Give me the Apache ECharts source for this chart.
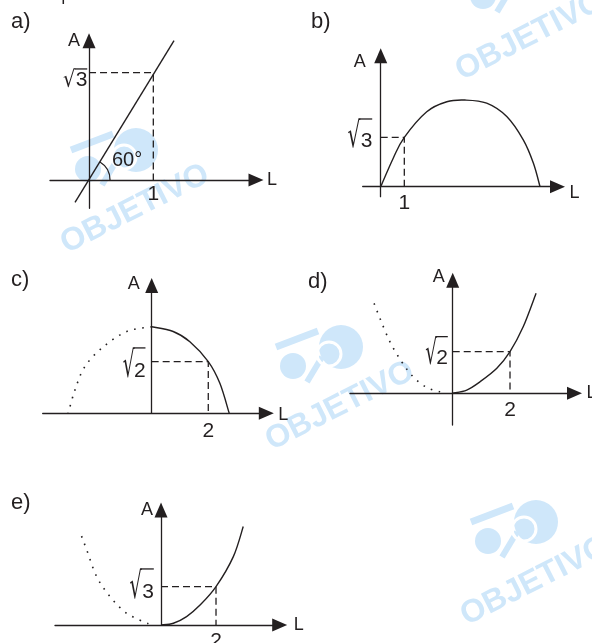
<!DOCTYPE html>
<html>
<head>
<meta charset="utf-8">
<script src="https://cdn.jsdelivr.net/npm/echarts@6/dist/echarts.min.js"></script>
<style>
  html, body { margin: 0; padding: 0; background: #fff; }
  #chart { width: 592px; height: 643px; }
</style>
</head>
<body>
<div id="chart"></div>
<script>
// ---- values ----
const SQRT3 = 1.732;
const SQRT2 = 1.414;

// a) straight line through the origin at 60 degrees
const aLine = [[-0.218, -0.36], [1.322, 2.249]];
const aGuide = [[0, SQRT3], [1, SQRT3], [1, 0]];
const aXTicks = [1], aXTickLabels = ['1'];
const aYTicks = [SQRT3], aYTickLabels = ['3'];

// b) arch starting at the origin
const bCurve = [[0, 0], [0.53, 1.0], [1, SQRT3], [1.95, 2.63], [2.80, 2.98], [3.57, 3.04],
                [4.49, 2.93], [5.34, 2.46], [6.04, 1.64], [6.47, 0.82], [6.75, 0]];
const bGuide = [[0, SQRT3], [1, SQRT3], [1, 0]];
const bXTicks = [1], bXTickLabels = ['1'];
const bYTicks = [SQRT3], bYTickLabels = ['3'];

// c) decreasing branch, mirrored branch dotted
const cSolid = [[0, 2.37], [0.76, 2.24], [1.35, 1.96], [2, SQRT2], [2.41, 0.82], [2.74, 0]];
const cDotted = [[0, 2.37], [-0.88, 2.24], [-1.71, 1.82], [-2.36, 1.28], [-2.71, 0.64], [-2.95, 0]];
const cGuide = [[0, SQRT2], [2, SQRT2], [2, 0]];
const cXTicks = [2], cXTickLabels = ['2'];
const cYTicks = [SQRT2], cYTickLabels = ['2'];

// d) increasing branch through (2, √2)
const dSolid = [[0, 0], [0.49, 0.11], [0.95, 0.39], [1.54, 0.85], [2, SQRT2], [2.46, 2.26], [2.91, 3.40]];
const dDotted = [[-0.44, 0.05], [-0.91, 0.20], [-1.38, 0.56], [-1.78, 1.07], [-2.19, 1.75], [-2.54, 2.55], [-2.79, 3.17]];
const dGuide = [[0, SQRT2], [2, SQRT2], [2, 0]];
const dXTicks = [2], dXTickLabels = ['2'];
const dYTicks = [SQRT2], dYTickLabels = ['2'];

// e) increasing branch through (2, √3)
const eSolid = [[0, 0], [0.45, 0.08], [0.93, 0.38], [1.42, 0.90], [2, SQRT3], [2.63, 3.09], [2.99, 4.45]];
const eDotted = [[-0.46, 0.05], [-1.25, 0.53], [-1.85, 1.28], [-2.34, 2.19], [-2.70, 3.39], [-2.95, 4.22]];
const eGuide = [[0, SQRT3], [2, SQRT3], [2, 0]];
const eXTicks = [2], eXTickLabels = ['2'];
const eYTicks = [SQRT3], eYTickLabels = ['3'];

// ---- styling ----
const INK = '#231f20';
const FAMILY = '"Liberation Sans"';
const FONT = FAMILY + ', Arial, sans-serif';
const ROOT_FAMILY = '"DejaVu Sans"';
const WATERMARK = '#cfe7fa';

// layout per panel: grid box (px), axis ranges, label placement
// root: radicand right edge / vertical centre offsets, vinculum height offset, radical sign width (px)
const panels = [
  { tag: 'a)', tagX: 11, tagY: 22,
    grid: { left: 50, top: 40.8, width: 206, height: 167.5 }, x: [-0.607, 2.597], y: [-0.457, 2.247],
    solid: aLine, dotted: null, guide: aGuide, curved: false,
    xt: aXTicks, xtl: aXTickLabels, yt: aYTicks, ytl: aYTickLabels,
    aGap: 0, aPad: 9, lGap: 11, lShift: 0, xMargin: -24.5,
    root: { right: -2.3, center: 6.6, bar: -4.4, width: 12 } },
  { tag: 'b)', tagX: 311, tagY: 22,
    grid: { left: 362.7, top: 55.8, width: 194.8, height: 140.9 }, x: [-0.763, 7.49], y: [-0.351, 4.593],
    solid: bCurve, dotted: null, guide: bGuide, curved: true,
    xt: bXTicks, xtl: bXTickLabels, yt: bYTicks, ytl: bYTickLabels,
    aGap: -6, aPad: 15, lGap: 12, lShift: 12, xMargin: -4,
    root: { right: -9, center: 2.7, bar: -19, width: 12.5 } },
  { tag: 'c)', tagX: 11, tagY: 280,
    grid: { left: 42.7, top: 285.5, width: 223.6, height: 127.8 }, x: [-3.85, 4.05], y: [0, 3.5],
    solid: cSolid, dotted: cDotted, guide: cGuide, curved: true,
    xt: cXTicks, xtl: cXTickLabels, yt: cYTicks, ytl: cYTickLabels,
    aGap: 1, aPad: 12, lGap: 12, lShift: 4, xMargin: 7,
    root: { right: -6.7, center: 8, bar: -14.4, width: 11.5 } },
  { tag: 'd)', tagX: 308, tagY: 282,
    grid: { left: 350, top: 280.3, width: 224.5, height: 144.7 }, x: [-3.585, 4.251], y: [-1.078, 3.841],
    solid: dSolid, dotted: dDotted, guide: dGuide, curved: true,
    xt: dXTicks, xtl: dXTickLabels, yt: dYTicks, ytl: dYTickLabels,
    aGap: 3, aPad: 8, lGap: 12, lShift: 0, xMargin: -25.5,
    root: { right: -5.4, center: 5, bar: -15.7, width: 11.5 } },
  { tag: 'e)', tagX: 11, tagY: 503,
    grid: { left: 55, top: 510, width: 224.7, height: 115 }, x: [-3.855, 4.316], y: [0, 5.2],
    solid: eSolid, dotted: eDotted, guide: eGuide, curved: true,
    xt: eXTicks, xtl: eXTickLabels, yt: eYTicks, ytl: eYTickLabels,
    aGap: 0, aPad: 8, lGap: 14, lShift: 0, xMargin: 6,
    root: { right: -7.7, center: 4.1, bar: -18.4, width: 12 } }
];

function pick(values, labels, v) {
  let best = 0;
  values.forEach((t, i) => { if (Math.abs(t - v) < Math.abs(values[best] - v)) best = i; });
  return labels[best];
}

// Catmull-Rom spline through pixel points, as an SVG path string
function splinePath(pts) {
  let d = 'M' + pts[0][0] + ' ' + pts[0][1];
  for (let i = 0; i < pts.length - 1; i++) {
    const p0 = pts[i - 1] || pts[i], p1 = pts[i], p2 = pts[i + 1], p3 = pts[i + 2] || pts[i + 1];
    const c1x = p1[0] + (p2[0] - p0[0]) / 6, c1y = p1[1] + (p2[1] - p0[1]) / 6;
    const c2x = p2[0] - (p3[0] - p1[0]) / 6, c2y = p2[1] - (p3[1] - p1[1]) / 6;
    d += ' C' + c1x + ' ' + c1y + ' ' + c2x + ' ' + c2y + ' ' + p2[0] + ' ' + p2[1];
  }
  return d;
}

function curveSeries(i, pts, lineDash, width) {
  return {
    type: 'custom', coordinateSystem: 'cartesian2d', xAxisIndex: i, yAxisIndex: i,
    data: pts, encode: { x: 0, y: 1 }, z: 3, silent: true,
    renderItem: (params, api) => {
      if (params.dataIndex !== 0) return null;
      const px = pts.map(pt => api.coord(pt));
      return {
        type: 'path', shape: { pathData: splinePath(px) },
        style: { stroke: INK, lineWidth: width, fill: null, lineDash: lineDash }
      };
    }
  };
}

const axisLineStyle = {
  onZero: true,
  symbol: ['none', 'triangle'],
  symbolSize: [13, 15],
  lineStyle: { color: INK, width: 1.3 }
};

const grids = [], xAxes = [], yAxes = [], series = [];

panels.forEach((p, i) => {
  // fixed pixel boxes: labels near the page edge must not squeeze the plot
  grids.push(Object.assign({ containLabel: false, outerBoundsMode: 'none' }, p.grid));
  xAxes.push({
    type: 'value', gridIndex: i, min: p.x[0], max: p.x[1],
    axisLine: axisLineStyle, axisTick: { show: false }, splitLine: { show: false },
    axisLabel: {
      customValues: p.xt, formatter: v => pick(p.xt, p.xtl, v),
      margin: p.xMargin, color: INK, fontSize: 21, fontFamily: FONT
    },
    name: '{n|L}', nameLocation: 'end', nameGap: p.lGap,
    nameTextStyle: { color: INK, fontSize: 18, fontFamily: FONT, align: 'left', verticalAlign: 'middle',
                     rich: { n: { fontSize: 18, fontFamily: FONT, color: INK, padding: [p.lShift, 0, 0, 0] } } }
  });
  yAxes.push({
    type: 'value', gridIndex: i, min: p.y[0], max: p.y[1],
    axisLine: axisLineStyle, axisTick: { show: false }, splitLine: { show: false },
    axisLabel: { show: false },
    name: '{n|A}', nameLocation: 'end', nameGap: p.aGap,
    nameTextStyle: { color: INK, fontSize: 18, fontFamily: FONT, align: 'right', verticalAlign: 'middle',
                     rich: { n: { fontSize: 18, fontFamily: FONT, color: INK, padding: [0, p.aPad, 0, 0] } } }
  });

  if (p.curved) {
    series.push(curveSeries(i, p.solid, null, 1.4));
    if (p.dotted) series.push(curveSeries(i, p.dotted, [1.6, 6.5], 1.6));
  } else {
    series.push({
      type: 'line', xAxisIndex: i, yAxisIndex: i, data: p.solid,
      symbol: 'none', clip: false, z: 3, silent: true,
      lineStyle: { color: INK, width: 1.4 }
    });
  }
  series.push({
    type: 'line', xAxisIndex: i, yAxisIndex: i, data: p.guide,
    symbol: 'none', clip: false, z: 2, silent: true,
    lineStyle: { color: INK, width: 1.3, type: [7, 4] }
  });
});

// watermark: text centre of each stamp
const stamps = [[135, 209], [530, 36], [340, 406], [535, 581]];

function stampElements(cx, cy) {
  return [
    { type: 'circle', z: -10, shape: { cx: cx + 1, cy: cy - 59, r: 22 }, style: { fill: WATERMARK } },
    { type: 'circle', z: -9, shape: { cx: cx - 11, cy: cy - 52, r: 12 }, style: { fill: 'none', stroke: '#fff', lineWidth: 3 } },
    { type: 'circle', z: -10, shape: { cx: cx - 47, cy: cy - 40, r: 13 }, style: { fill: WATERMARK } },
    { type: 'line', z: -10, shape: { x1: cx - 64, y1: cy - 59, x2: cx - 22, y2: cy - 75 }, style: { stroke: WATERMARK, lineWidth: 7 } },
    { type: 'line', z: -10, shape: { x1: cx - 33, y1: cy - 24, x2: cx - 18, y2: cy - 49 }, style: { stroke: WATERMARK, lineWidth: 6 } },
    { type: 'text', z: -10, x: cx, y: cy, rotation: 0.47,
      style: { text: 'OBJETIVO', fill: WATERMARK, font: 'bold 32px ' + FONT, align: 'center', verticalAlign: 'middle' } }
  ];
}

const chart = echarts.init(document.getElementById('chart'), null, { renderer: 'canvas' });
chart.setOption({
  animation: false,
  backgroundColor: '#fff',
  grid: grids, xAxis: xAxes, yAxis: yAxes, series: series
});

// ink extents of a string, measured about a left / middle anchor
const measureCtx = document.createElement('canvas').getContext('2d');
function inkBox(font, str) {
  measureCtx.font = font;
  measureCtx.textAlign = 'left';
  measureCtx.textBaseline = 'middle';
  const m = measureCtx.measureText(str);
  return { l: m.actualBoundingBoxLeft, r: m.actualBoundingBoxRight,
           a: m.actualBoundingBoxAscent, d: m.actualBoundingBoxDescent };
}

// square-root tick label: radicand, radical sign and vinculum, anchored on the tick of the A axis
function rootLabel(at, digit, spec) {
  const digitFont = '21px ' + FAMILY;
  const md = inkBox(digitFont, digit);
  const xd = at[0] + spec.right - md.r;
  const yd = at[1] + spec.center - (md.d - md.a) / 2;
  const digitLeft = xd - md.l;
  const digitBottom = yd + md.d;

  const barY = at[1] + spec.bar;
  const h = digitBottom + 1.5 - barY;
  const mr = inkBox('100px ' + ROOT_FAMILY, '√');
  const k = h / (mr.a + mr.d);
  const size = 100 * k;
  const sx = spec.width / ((mr.l + mr.r) * k);
  const xr = digitLeft - 0.3 - mr.r * k * sx;
  const yr = barY + mr.a * k;
  const barStart = xr + mr.r * k * sx - 0.8;

  return [
    { type: 'text', z: 5, x: xd, y: yd,
      style: { text: digit, fill: INK, font: digitFont, align: 'left', verticalAlign: 'middle' } },
    { type: 'text', z: 5, x: xr, y: yr, scaleX: sx,
      style: { text: '√', fill: INK, font: size.toFixed(2) + 'px ' + ROOT_FAMILY, align: 'left', verticalAlign: 'middle' } },
    { type: 'line', z: 5,
      shape: { x1: barStart, y1: barY + 0.65, x2: xd + md.r + 0.5, y2: barY + 0.65 },
      style: { stroke: INK, lineWidth: 1.3 } }
  ];
}

// panel tags, radical tick labels, the angle mark in a) and the stamps
const graphics = [];
stamps.forEach(s => graphics.push(...stampElements(s[0], s[1])));
panels.forEach((p, i) => {
  graphics.push({ type: 'text', x: p.tagX, y: p.tagY, z: 5,
    style: { text: p.tag, fill: INK, font: '22px ' + FONT, verticalAlign: 'middle' } });
  p.yt.forEach((v, j) => {
    const at = chart.convertToPixel({ gridIndex: i }, [0, v]);
    graphics.push(...rootLabel(at, p.ytl[j], p.root));
  });
});
graphics.push({ type: 'line', shape: { x1: 63.3, y1: 0, x2: 63.3, y2: 4 }, style: { stroke: INK, lineWidth: 1.5 } });

const o = chart.convertToPixel({ gridIndex: 0 }, [0, 0]);
const tip = chart.convertToPixel({ gridIndex: 0 }, aLine[1]);
const ang = Math.atan2(tip[1] - o[1], tip[0] - o[0]);
graphics.push({ type: 'arc', z: 5, shape: { cx: o[0], cy: o[1], r: 21, startAngle: ang, endAngle: 0, clockwise: true },
  style: { stroke: INK, lineWidth: 1.3, fill: 'none' } });
graphics.push({ type: 'text', z: 5, x: o[0] + 38, y: o[1] - 20,
  style: { text: '60°', fill: INK, font: '20px ' + FONT, align: 'center', verticalAlign: 'middle' } });

chart.setOption({ graphic: { elements: graphics } });
</script>
</body>
</html>
